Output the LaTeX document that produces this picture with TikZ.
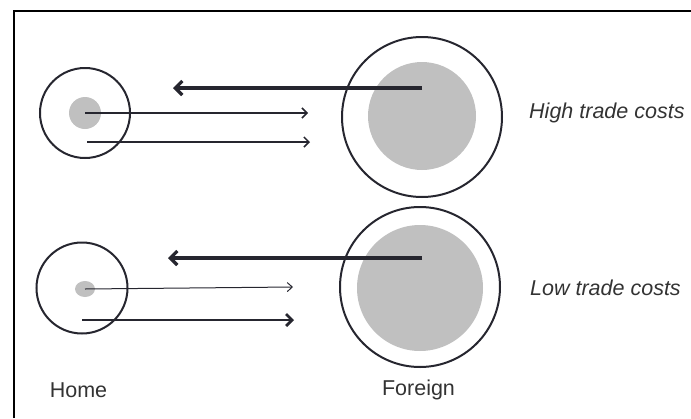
\documentclass[tikz,border=0pt]{standalone}
\usepackage{fontspec}
\setmainfont{Liberation Sans}
\usetikzlibrary{arrows.meta,shapes.geometric}
\definecolor{ink}{HTML}{26262F}
\definecolor{txt}{HTML}{333333}
\definecolor{blob}{HTML}{C0C0C0}
\begin{document}
\begin{tikzpicture}[x=1pt,y=-1pt,
  ring/.style={circle, draw=ink, line width=2pt, inner sep=0pt, fill=none},
  disk/.style={circle, fill=blob, draw=none, inner sep=0pt},
  heavy/.style={draw=ink, line width=3.2pt, -{Straight Barb[length=7pt,width=14pt,line width=3.2pt]}},
  medium/.style={draw=ink, line width=2.7pt, -{Straight Barb[length=6pt,width=12pt,line width=2.7pt]}},
  light/.style={draw=ink, line width=1.5pt, -{Straight Barb[length=5pt,width=10pt,line width=1.5pt]}},
  fine/.style={draw=ink, line width=1pt, -{Straight Barb[length=5pt,width=9pt,line width=1pt]}},
  lbl/.style={text=txt, font=\fontsize{21.5}{25}\selectfont, inner sep=0pt},
  ilbl/.style={lbl, font=\fontsize{21.5}{25}\selectfont\itshape, anchor=west}
]
\useasboundingbox (0,0) rectangle (691,418);
% frame
\draw[line width=2pt, black] (14,418) -- (14,11) -- (691,11);

% ---- High trade costs ----
\node[disk, minimum size=108pt] (fd1) at (422,116) {};
\node[ring, minimum size=160pt] (f1) at (422,117) {};
\node[disk, minimum size=32pt] (hd1) at (85,113) {};
\node[ring, minimum size=90pt] (h1) at (85,113) {};

\coordinate (f1s) at (422,88);
\coordinate (f1e) at (173,88);
\draw[heavy] (f1s) -- (f1e);
\coordinate (h1e) at (308,113);
\draw[light] (hd1.center) -- (h1e);
\coordinate (h1s2) at (87,142);
\coordinate (h1e2) at (310,142);
\draw[light] (h1s2) -- (h1e2);

\node[ilbl] (high) at (529,113) {High trade costs};

% ---- Low trade costs ----
\node[disk, minimum size=126pt] (fd2) at (420,288) {};
\node[ring, minimum size=160pt] (f2) at (420,287) {};
\node[ellipse, fill=blob, draw=none, inner sep=0pt, minimum width=20pt, minimum height=16pt] (hd2) at (85,289) {};
\node[ring, minimum size=91pt] (h2) at (82,288) {};

\coordinate (f2s) at (422,258);
\coordinate (f2e) at (168,258);
\draw[heavy] (f2s) -- (f2e);
\coordinate (h2e) at (293,287);
\draw[fine] (hd2.center) -- (h2e);
\coordinate (h2s2) at (82,320);
\coordinate (h2e2) at (294,320);
\draw[medium] (h2s2) -- (h2e2);

\node[ilbl] (low) at (530,288) {Low trade costs};

% ---- captions ----
\node[lbl] (home) at (78.5,390) {Home};
\node[lbl] (foreign) at (418.5,390) {Foreign};
\end{tikzpicture}
\end{document}
